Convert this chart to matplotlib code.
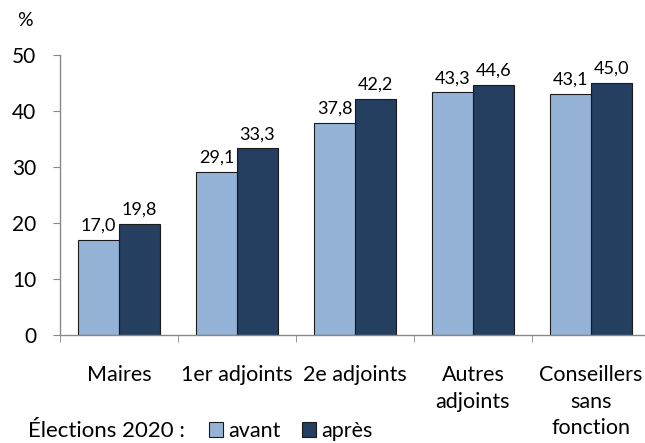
import matplotlib.pyplot as plt
import numpy as np

plt.rcParams['font.family'] = ['Lato', 'DejaVu Sans']

categories = ["Maires", "1er adjoints", "2e adjoints", "Autres\nadjoints", "Conseillers\nsans\nfonction"]
avant = [17.0, 29.1, 37.8, 43.3, 43.1]
apres = [19.8, 33.3, 42.2, 44.6, 45.0]
yticks = [0, 10, 20, 30, 40, 50]

c_avant = "#95B3D7"
c_apres = "#243F60"

fig = plt.figure(figsize=(6.45, 4.43), dpi=100)
ax = fig.add_axes([60 / 645, 0.244, 590 / 645, 0.632])

x = np.arange(len(categories))
w = 0.345
b1 = ax.bar(x - w / 2, avant, w, color=c_avant, edgecolor="#1a1a1a", linewidth=0.8, label="avant")
b2 = ax.bar(x + w / 2, apres, w, color=c_apres, edgecolor="#1a1a1a", linewidth=0.8, label="après")

for bars, vals in [(b1, avant), (b2, apres)]:
    for r, v in zip(bars, vals):
        ax.text(r.get_x() + r.get_width() / 2, v + 1.1, f"{v:.1f}".replace(".", ","),
                ha="center", va="bottom", fontsize=13)

ax.set_xlim(-0.5, 4.5)
ax.set_ylim(0, 50)
ax.set_yticks(yticks)
ax.tick_params(axis="y", labelsize=15, length=5, color="#888888", pad=12)
ax.set_xticks(np.arange(len(categories) + 1) - 0.5, minor=True)
ax.set_xticks(x)
ax.set_xticklabels(categories, fontsize=15.5, linespacing=1.4, va="top")
ax.tick_params(axis="x", which="major", length=0, pad=22)
ax.tick_params(axis="x", which="minor", length=5, color="#888888", direction="out")
for s in ["top", "right"]:
    ax.spines[s].set_visible(False)
for s in ["left", "bottom"]:
    ax.spines[s].set_color("#888888")
    ax.spines[s].set_linewidth(1)

fig.text(17 / 645, 1 - 21 / 443, "%", fontsize=14, va="center")

fig.text(28 / 645, 1 - 431 / 443, "Élections 2020 :", fontsize=16, va="center")
leg = fig.legend(handles=[b1, b2], labels=["avant", "après"], loc="center left",
                 bbox_to_anchor=(209 / 645, 1 - 431 / 443), ncol=2, frameon=False,
                 fontsize=15.5, handlelength=0.65, handleheight=0.65, handletextpad=0.25,
                 columnspacing=1.0, borderaxespad=0, borderpad=0)

fig.savefig("out.png", dpi=100)
